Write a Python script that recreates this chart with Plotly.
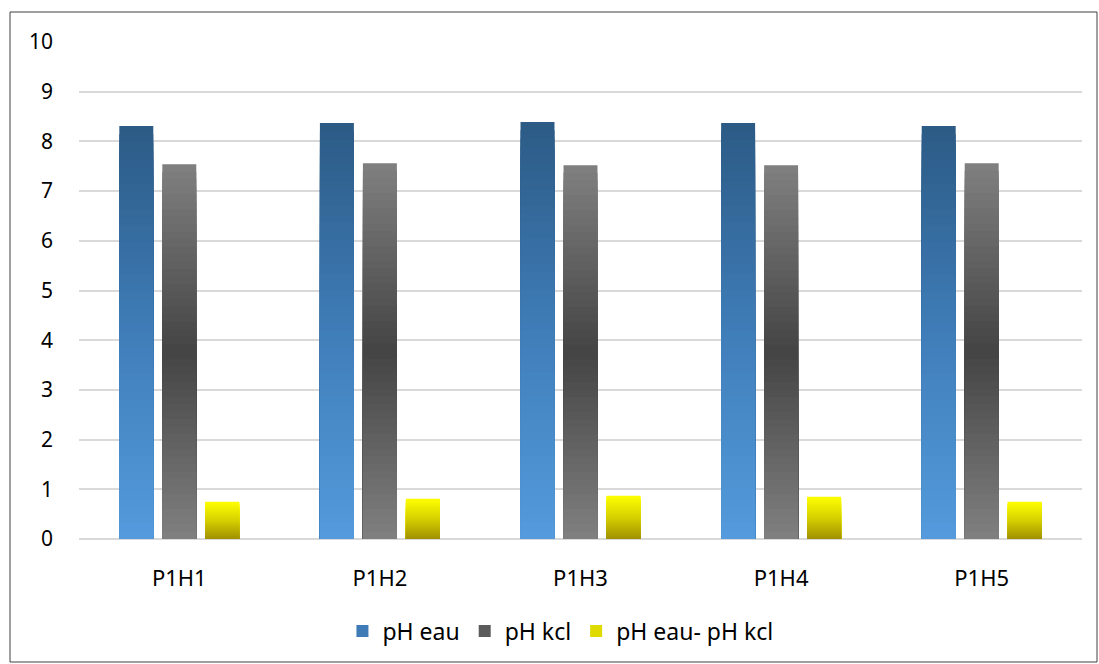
import plotly.graph_objects as go

categories = ["P1H1", "P1H2", "P1H3", "P1H4", "P1H5"]
ph_eau = [8.31, 8.37, 8.39, 8.37, 8.31]
ph_kcl = [7.54, 7.56, 7.52, 7.52, 7.56]
ph_diff = [0.75, 0.81, 0.87, 0.85, 0.75]
y_ticks = list(range(0, 11))

# gradient stops (bottom -> middle -> top) used to fake Excel's gradient fill,
# last item = which slice of the gradient shows in the legend
series = [
    ("pH eau", ph_eau, ["#549BDD", "#3F7DB8", "#2C5A85"], 0.5),
    ("pH kcl", ph_kcl, ["#808080", "#444444", "#808080"], 0.3),
    ("pH eau- pH kcl", ph_diff, ["#A09000", "#D6D000", "#FFFF00"], 0.6),
]

N = 50


def hex_rgb(h):
    h = h.lstrip("#")
    return tuple(int(h[i:i + 2], 16) for i in (0, 2, 4))


def grad(stops, t):
    a, b, c = [hex_rgb(s) for s in stops]
    if t <= 0.5:
        u = t / 0.5
        p, q = a, b
    else:
        u = (t - 0.5) / 0.5
        p, q = b, c
    r = [round(p[i] + (q[i] - p[i]) * u) for i in range(3)]
    return "rgb(%d,%d,%d)" % tuple(r)


fig = go.Figure()
for name, vals, stops, leg_t in series:
    leg_k = N - 1 - int(leg_t * N)
    # full bars first, then shorter ones painted on top -> no seams
    for k in range(N):
        frac = (N - k) / N
        t = (N - k - 0.5) / N
        fig.add_trace(go.Bar(
            x=categories,
            y=[v * frac for v in vals],
            name=name,
            offsetgroup=name,
            legendgroup=name,
            showlegend=(k == leg_k),
            marker=dict(color=grad(stops, t), line=dict(width=0)),
            hoverinfo="skip" if k else None,
        ))

fig.update_layout(
    width=1099,
    height=664,
    margin=dict(l=79, r=17, t=42, b=125),
    paper_bgcolor="white",
    plot_bgcolor="white",
    barmode="group",
    bargap=0.357,
    bargroupgap=0.21,
    font=dict(family="Noto Sans", size=21, color="#000000"),
    legend=dict(orientation="h", x=0.48, xanchor="center", y=-0.185,
                yanchor="middle", font=dict(size=23), itemwidth=30,
                traceorder="normal"),
    xaxis=dict(showgrid=False, ticks="", showline=False,
               ticklabelstandoff=24, tickfont=dict(size=22)),
    yaxis=dict(range=[0, 10], tickvals=y_ticks, showgrid=True,
               gridcolor="#D9D9D9", gridwidth=1.5, zeroline=True,
               zerolinecolor="#D9D9D9", zerolinewidth=1.5, ticks="",
               ticklabelstandoff=25, tickfont=dict(size=21)),
    shapes=[dict(type="rect", xref="paper", yref="paper",
                 x0=-69 / 1003, x1=(1097 - 79) / 1003,
                 y0=-123 / 497, y1=1 + 30 / 497,
                 line=dict(color="#404040", width=1))],
)

fig.write_html("out.html", config={"displayModeBar": False},
               post_script="document.body.style.margin='0';")
